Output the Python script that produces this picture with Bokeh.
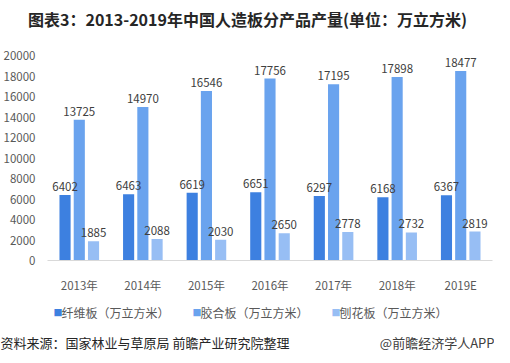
from bokeh.plotting import figure
from bokeh.models import ColumnDataSource, FactorRange, Range1d, Label, FixedTicker
from bokeh.layouts import column
from bokeh.transform import dodge
from bokeh.core.properties import value
from bokeh.embed import file_html
from bokeh.resources import INLINE

years = ["2013年", "2014年", "2015年", "2016年", "2017年", "2018年", "2019E"]
fiberboard = [6402, 6463, 6619, 6651, 6297, 6168, 6367]
plywood = [13725, 14970, 16546, 17756, 17195, 17898, 18477]
particleboard = [1885, 2088, 2030, 2650, 2778, 2732, 2819]
series_names = ["纤维板（万立方米）", "胶合板（万立方米）", "刨花板（万立方米）"]
colors = ["#3d80e0", "#6aa3ee", "#97bef4"]
title_text = "图表3：2013-2019年中国人造板分产品产量(单位：万立方米)"
source_text = "资料来源：国家林业与草原局 前瞻产业研究院整理"
brand_text = "@前瞻经济学人APP"

FONT = "Noto Sans CJK SC"
W = 494


def blank(h):
    f = figure(width=W, height=h, x_range=Range1d(0, W), y_range=Range1d(h, 0),
               x_axis_type=None, y_axis_type=None, output_backend="svg",
               toolbar_location=None, min_border=0, frame_align=False)
    f.outline_line_color = None
    f.xgrid.grid_line_color = None
    f.ygrid.grid_line_color = None
    return f


def lab(f, x, y, text, align="left", size="12px", color="#595959", style="normal"):
    f.add_layout(Label(x=x, y=y, text=text, text_align=align, text_baseline="middle",
                       text_font=FONT, text_font_size=size, text_font_style=style,
                       text_color=color))


# header
head = blank(40)
lab(head, 247, 18, title_text, align="center", size="16px", color="#262626", style="bold")

# main chart
src = ColumnDataSource(dict(
    year=years,
    s0=fiberboard, s1=plywood, s2=particleboard,
    t0=[str(v) for v in fiberboard],
    t1=[str(v) for v in plywood],
    t2=[str(v) for v in particleboard],
))

p = figure(width=W, height=255, x_range=FactorRange(*years, range_padding=0),
           y_range=Range1d(0, 20000), output_backend="svg", toolbar_location=None,
           min_border_left=40, min_border_right=2, min_border_top=15, min_border_bottom=27,
           frame_align=False)
p.outline_line_color = None
p.xgrid.grid_line_color = None
p.ygrid.grid_line_color = None

offsets = [-0.224, 0.0, 0.224]
for i in range(3):
    p.vbar(x=dodge("year", offsets[i], range=p.x_range), top="s%d" % i, width=0.175,
           source=src, color=colors[i], line_color=None)
for i in range(3):
    p.text(x=dodge("year", offsets[i], range=p.x_range), y="s%d" % i, text="t%d" % i,
           source=src, text_align="center", text_baseline="bottom", y_offset=-4,
           text_font=value(FONT), text_font_size="11.5px", text_color="#404040")

p.yaxis.ticker = FixedTicker(ticks=list(range(0, 20001, 2000)))
p.yaxis.axis_line_color = None
p.yaxis.major_tick_line_color = None
p.yaxis.minor_tick_line_color = None
p.yaxis.major_label_standoff = 6
p.yaxis.major_label_text_font = FONT
p.yaxis.major_label_text_font_size = "11.5px"
p.yaxis.major_label_text_color = "#595959"

p.xaxis.axis_line_color = "#d9d9d9"
p.xaxis.major_tick_line_color = None
p.xaxis.minor_tick_line_color = None
p.xaxis.major_label_standoff = 10
p.xaxis.major_label_text_font = FONT
p.xaxis.major_label_text_font_size = "11.5px"
p.xaxis.major_label_text_color = "#595959"

# footer
foot = blank(60)
legend_x = [53, 192, 331]
for i in range(3):
    lab(foot, legend_x[i], 17, "■", size="9px", color=colors[i])
    lab(foot, legend_x[i] + 8, 17, series_names[i], size="12px", color="#595959")
lab(foot, 0, 47, source_text, size="13px", color="#262626")
lab(foot, 494, 47, brand_text, align="right", size="13px", color="#404040")

layout = column(head, p, foot, spacing=0)
open("out.html", "w").write(file_html(layout, INLINE))
